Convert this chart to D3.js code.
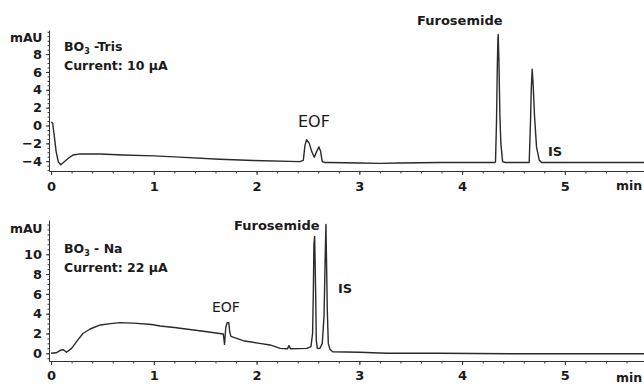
<!DOCTYPE html>
<html>
<head>
<meta charset="utf-8">
<script src="https://cdn.jsdelivr.net/npm/d3@7"></script>
<style>
  body { margin: 0; background: #fff; }
  svg { display: block; }
  text { font-family: "DejaVu Sans", sans-serif; fill: #1a1a1a; }
</style>
</head>
<body>
<script>
var width = 644, height = 384;

// electropherogram 1: BO3-Tris, 10 uA
var topTime = [0.00, 0.016, 0.03, 0.049, 0.071, 0.094, 0.12, 0.168, 0.217, 0.28,
  0.48, 0.7, 1.0, 1.25, 1.64, 1.97, 2.42, 2.455, 2.471, 2.487,
  2.513, 2.536, 2.562, 2.585, 2.607, 2.623, 2.639, 2.665, 2.71, 3.0,
  3.2, 3.4, 3.78, 4.1, 4.32, 4.325, 4.335, 4.342, 4.348, 4.351,
  4.358, 4.368, 4.377, 4.394, 4.42, 4.6, 4.65, 4.653, 4.666, 4.673,
  4.682, 4.692, 4.705, 4.724, 4.75, 4.773, 5.0, 5.4, 5.77];
var topSignal = [0.4, 0.25, -1.05, -2.9, -4.1, -4.4, -4.15, -3.67, -3.3, -3.18,
  -3.2, -3.3, -3.4, -3.55, -3.78, -3.93, -4.05, -3.9, -2.2, -1.6,
  -2.0, -2.9, -3.55, -2.9, -2.4, -2.9, -4.05, -4.15, -4.15, -4.2,
  -4.25, -4.2, -4.15, -4.15, -4.15, -4.1, 0.6, 6.2, 9.6, 10.2,
  7.35, 1.0, -1.98, -4.05, -4.15, -4.15, -4.15, -4.1, 0.6, 4.0,
  6.3, 4.4, 1.0, -2.4, -3.86, -4.15, -4.15, -4.15, -4.15];

// electropherogram 2: BO3-Na, 22 uA
var botTime = [0.0, 0.05, 0.09, 0.12, 0.15, 0.2, 0.25, 0.31, 0.38, 0.48,
  0.58, 0.67, 0.8, 0.98, 1.06, 1.2, 1.35, 1.5, 1.64, 1.676,
  1.688, 1.70, 1.715, 1.73, 1.738, 1.75, 1.87, 2.03, 2.13, 2.23,
  2.30, 2.315, 2.33, 2.49, 2.529, 2.545, 2.552, 2.558, 2.565, 2.575,
  2.581, 2.591, 2.617, 2.639, 2.656, 2.662, 2.669, 2.675, 2.682, 2.688,
  2.698, 2.714, 2.74, 3.0, 3.27, 3.76, 4.5, 5.2, 5.77];
var botSignal = [0, 0.05, 0.3, 0.35, 0.1, 0.5, 1.2, 2.0, 2.45, 2.86,
  3.0, 3.1, 3.05, 2.9, 2.76, 2.6, 2.4, 2.2, 2.0, 1.95,
  0.9, 2.6, 3.1, 3.1, 2.2, 1.7, 1.27, 1.0, 0.84, 0.5,
  0.45, 0.77, 0.45, 0.5, 0.67, 2.0, 6.0, 11.0, 11.8, 6.0,
  1.3, 0.5, 0.5, 1.0, 3.7, 6.7, 10.4, 13.0, 8.4, 4.4,
  1.0, 0.4, 0.16, 0.1, 0.0, 0.0, -0.05, -0.05, -0.05];

var xTicks = [0, 1, 2, 3, 4, 5];
var topYTicks = [-4, -2, 0, 2, 4, 6, 8];
var botYTicks = [0, 2, 4, 6, 8, 10];

var svg = d3.select("body")
  .append("svg")
  .attr("width", width)
  .attr("height", height);

function drawPanel(p) {
  var x = d3.scaleLinear().domain([-0.02, 5.77]).range([49, 644]);
  var y = d3.scaleLinear().domain(p.yDomain).range([p.yBottom, p.yTop]);

  // minor x ticks
  svg.append("g")
    .attr("transform", "translate(0," + p.yBottom + ")")
    .call(d3.axisBottom(x).tickValues(d3.range(0, 5.8, 0.2)).tickSize(2.5).tickFormat(""))
    .call(function(g) { g.select(".domain").remove(); });

  svg.append("g")
    .attr("transform", "translate(0," + p.yBottom + ")")
    .call(d3.axisBottom(x).tickValues(xTicks).tickSize(4).tickPadding(p.xPad).tickSizeOuter(0).tickFormat(d3.format("d")));

  // minor y ticks
  svg.append("g")
    .attr("transform", "translate(49,0)")
    .call(d3.axisLeft(y).tickValues(d3.range(Math.ceil(p.yDomain[0] * 2) / 2, p.yDomain[1], 0.5)).tickSize(1.5).tickFormat(""))
    .call(function(g) { g.select(".domain").remove(); });

  svg.append("g")
    .attr("transform", "translate(49,0)")
    .call(d3.axisLeft(y).tickValues(p.yTicks).tickSize(3).tickPadding(4).tickSizeOuter(0));

  svg.selectAll(".tick text")
    .attr("font-family", "DejaVu Sans")
    .attr("font-size", 13)
    .attr("font-weight", "bold")
    .attr("fill", "#1a1a1a");
  svg.selectAll(".domain, .tick line").attr("stroke", "#333");

  var line = d3.line()
    .x(function(d, i) { return x(p.time[i]); })
    .y(function(d) { return y(d); });

  svg.append("path")
    .datum(p.signal)
    .attr("fill", "none")
    .attr("stroke", "#2a2a2a")
    .attr("stroke-width", 1.4)
    .attr("stroke-linejoin", "round")
    .attr("d", line);

  // labels
  svg.append("text").attr("x", 10).attr("y", p.mauY)
    .attr("font-size", 12.5).attr("font-weight", "bold").text("mAU");
  svg.append("text").attr("x", 616).attr("y", p.minY)
    .attr("font-size", 12.5).attr("font-weight", "bold").text("min");

  var t = svg.append("text").attr("x", 64).attr("y", p.titleY)
    .attr("font-size", 12.5).attr("font-weight", "bold");
  t.append("tspan").text("BO");
  t.append("tspan").attr("font-size", 8).attr("dy", 3).text("3");
  t.append("tspan").attr("dy", -3).text(p.buffer);

  svg.append("text").attr("x", 64).attr("y", p.titleY + 19)
    .attr("font-size", 12.5).attr("font-weight", "bold").text(p.current);

  p.peaks.forEach(function(k) {
    svg.append("text").attr("x", k.x).attr("y", k.y)
      .attr("font-size", k.size).attr("font-weight", k.bold ? "bold" : "normal")
      .text(k.label);
  });
}

drawPanel({
  time: topTime, signal: topSignal,
  yDomain: [-5.1, 10.7], yTop: 30, yBottom: 171,
  yTicks: topYTicks, xPad: 7,
  mauY: 42, minY: 190, titleY: 51,
  buffer: " -Tris", current: "Current: 10 µA",
  peaks: [
    { label: "Furosemide", x: 417, y: 25, size: 13, bold: true },
    { label: "EOF", x: 298, y: 127, size: 16, bold: false },
    { label: "IS", x: 548, y: 156, size: 13, bold: true }
  ]
});

drawPanel({
  time: botTime, signal: botSignal,
  yDomain: [-0.78, 13.46], yTop: 220, yBottom: 361,
  yTicks: botYTicks, xPad: 6,
  mauY: 233, minY: 382, titleY: 253,
  buffer: " - Na", current: "Current: 22 µA",
  peaks: [
    { label: "Furosemide", x: 234, y: 230, size: 13, bold: true },
    { label: "EOF", x: 212, y: 312, size: 14, bold: false },
    { label: "IS", x: 338, y: 293, size: 13, bold: true }
  ]
});
</script>
</body>
</html>
